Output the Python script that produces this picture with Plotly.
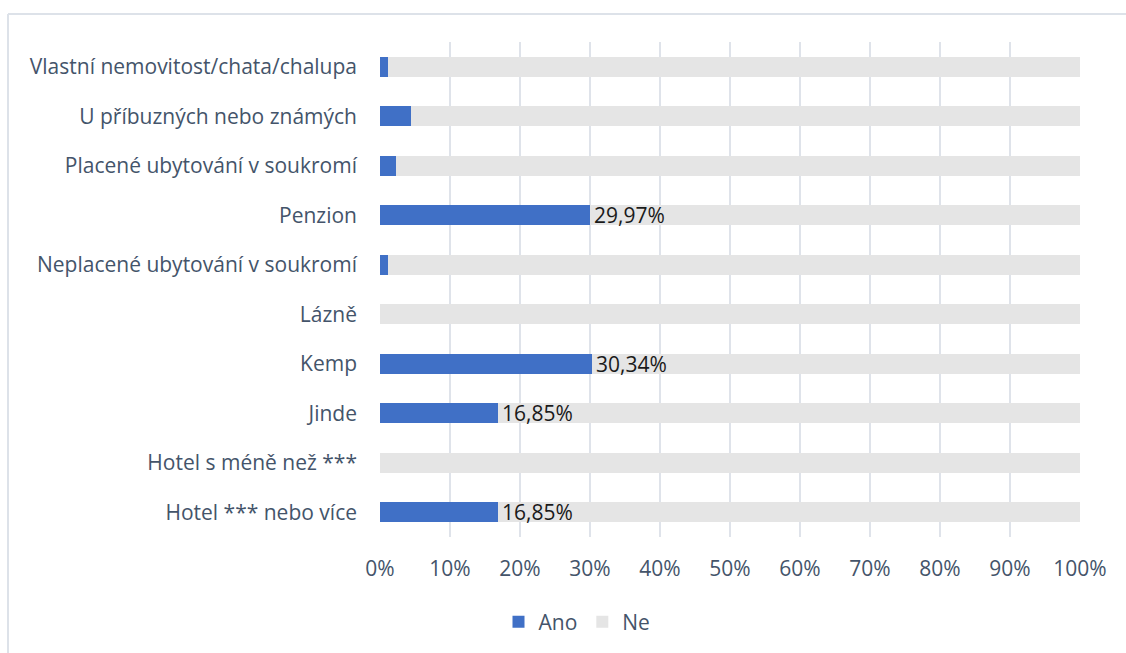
import plotly.graph_objects as go

# Categories listed bottom to top, as drawn on the y axis
categories = [
    "Hotel *** nebo více",
    "Hotel s méně než ***",
    "Jinde",
    "Kemp",
    "Lázně",
    "Neplacené ubytování v soukromí",
    "Penzion",
    "Placené ubytování v soukromí",
    "U příbuzných nebo známých",
    "Vlastní nemovitost/chata/chalupa",
]
ano = [16.85, 0.0, 16.85, 30.34, 0.0, 1.12, 29.97, 2.25, 4.49, 1.12]
ne = [100 - v for v in ano]

tick_vals = [0, 10, 20, 30, 40, 50, 60, 70, 80, 90, 100]
tick_text = [f"{v}%" for v in tick_vals]

W, H = 1126, 653
ML, MR, MT, MB = 380, 46, 42, 115
PW, PH = W - ML - MR, H - MT - MB

TEXT = "#44546A"
FONT = "Open Sans"
FS = 21

fig = go.Figure()
fig.add_trace(go.Bar(
    y=categories, x=ano, name="Ano", orientation="h",
    marker=dict(color="#4070C6", line=dict(width=0)), width=0.4,
    hoverinfo="skip",
))
fig.add_trace(go.Bar(
    y=categories, x=ne, name="Ne", orientation="h",
    marker=dict(color="#E5E5E5", line=dict(width=0)), width=0.4,
    hoverinfo="skip",
))

# Value labels for the larger "Ano" shares
annotations = []
for cat, v in zip(categories, ano):
    if v >= 10:
        annotations.append(dict(
            x=v, y=cat, xref="x", yref="y",
            text=f"{v:.2f}%".replace(".", ","),
            showarrow=False, xanchor="left", yanchor="middle", xshift=2,
            font=dict(family=FONT, size=FS, color="#1a1a1a"),
        ))

def px_x(p):
    return (p - ML) / PW

def px_y(p):
    return (H - MB - p) / PH

# Chart frame: top and left edges
shapes = [
    dict(type="line", xref="paper", yref="paper",
         x0=px_x(8), x1=px_x(1130), y0=px_y(14), y1=px_y(14),
         line=dict(color="#DDE2E9", width=2)),
    dict(type="line", xref="paper", yref="paper",
         x0=px_x(8), x1=px_x(8), y0=px_y(14), y1=px_y(660),
         line=dict(color="#DDE2E9", width=2)),
]

fig.update_layout(
    width=W, height=H,
    margin=dict(l=ML, r=MR, t=MT, b=MB, pad=0),
    barmode="stack",
    bargap=0.6,
    paper_bgcolor="white", plot_bgcolor="white",
    font=dict(family=FONT, size=FS, color=TEXT),
    xaxis=dict(
        range=[0, 100], tickvals=tick_vals, ticktext=tick_text,
        showgrid=True, gridcolor="#DFE3EA", gridwidth=1.5,
        zeroline=False, showline=False, ticks="",
        ticklabelstandoff=17,
        tickfont=dict(family=FONT, size=FS, color=TEXT),
        fixedrange=True,
    ),
    yaxis=dict(
        categoryorder="array", categoryarray=categories,
        showgrid=False, zeroline=False, showline=False, ticks="",
        ticklabelstandoff=22,
        tickfont=dict(family=FONT, size=FS, color=TEXT),
        fixedrange=True,
    ),
    legend=dict(
        orientation="h", x=px_x(577), xanchor="center",
        y=px_y(622), yanchor="middle",
        font=dict(family=FONT, size=FS, color=TEXT),
        traceorder="normal", itemwidth=30,
    ),
    annotations=annotations,
    shapes=shapes,
)

fig.write_html("out.html")
